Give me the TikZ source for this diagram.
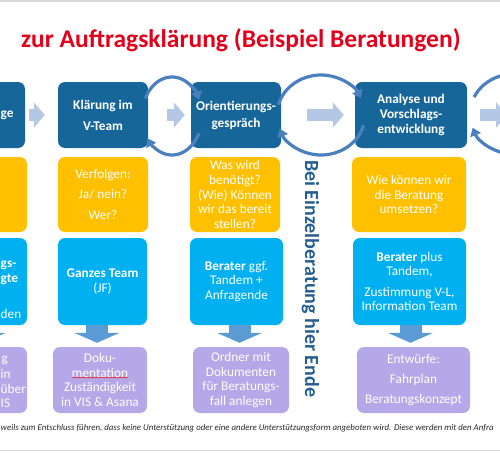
\documentclass[tikz,border=0pt]{standalone}
\usepackage{fontspec}
\setmainfont{Carlito}
\usetikzlibrary{arrows.meta,decorations.pathmorphing}
\definecolor{stepblue}{HTML}{17669A}
\definecolor{askyellow}{HTML}{FFC000}
\definecolor{whocyan}{HTML}{00B0F0}
\definecolor{resultlilac}{HTML}{B4A8E8}
\definecolor{flowblue}{HTML}{B4C8E6}
\definecolor{dropblue}{HTML}{5B9BD5}
\definecolor{loopblue}{HTML}{4A80C0}
\definecolor{titlered}{HTML}{E2001A}
\definecolor{endblue}{HTML}{245E91}

\begin{document}
\begin{tikzpicture}[x=1pt, y=-1pt,
    tile/.style={rectangle, rounded corners=7pt, text=white, align=center,
        inner sep=0pt, font=\fontsize{13.3}{14.6}\selectfont},
    stepbox/.style={tile, fill=stepblue, minimum height=66pt,
        font=\fontsize{13.3}{14.6}\selectfont\bfseries},
    askbox/.style={tile, fill=askyellow, minimum height=75pt},
    whobox/.style={tile, fill=whocyan, minimum height=87pt},
    resultbox/.style={tile, fill=resultlilac, minimum height=66pt},
    frag/.style={text=white, inner sep=0pt, anchor=base west,
        font=\fontsize{13.3}{14.6}\selectfont},
    flow/.style={draw=flowblue, line width=12pt, -{Triangle[width=25pt,length=11pt]}},
    drop/.style={draw=dropblue, line width=22pt, shorten >=4pt,
        -{Triangle[width=45pt,length=10pt]}},
    loopback/.style={draw=loopblue, line width=3.2pt, -{Triangle[width=11pt,length=8pt]}}
]
    \useasboundingbox (0,0) rectangle (500,452);
    \clip (0,0) rectangle (500,452);
    \draw[black!15, line width=1.5pt] (0,1) -- (500,1);
    \draw[black!15, line width=1pt] (0,450) -- (500,450);

    \node[anchor=base west, inner sep=0pt, text=titlered,
        font=\fontsize{25.5}{30}\selectfont\bfseries] (title) at (21,48)
        {zur Auftragsklärung (Beispiel Beratungen)};

    % Schritte
    \node[stepbox, minimum width=90pt] (k1) at (-20,115) {};
    \node[stepbox, minimum width=90pt] (k2) at (103,115) {Klärung im\\[6.4pt]V-Team};
    \node[stepbox, minimum width=90pt] (k3) at (236,115) {Orientierungs-\\[2.4pt]gespräch};
    \node[stepbox, minimum width=112pt] (k4) at (411,115) {Analyse und\\Vorschlags-\\entwicklung};
    \coordinate (k5) at (520,115);

    % Fragen
    \node[askbox, minimum width=92pt] (a1) at (-19,194.5) {};
    \node[askbox, minimum width=90pt] (a2) at (103,194.5) {Verfolgen:\\[6pt]Ja/ nein?\\[6.5pt]Wer?};
    \node[askbox, minimum width=90pt] (a3) at (235,194.5) {Was wird\\benötigt?\\(Wie) Können\\wir das bereit\\stellen?};
    \node[askbox, minimum width=114pt] (a4) at (409,194.5) {Wie können wir\\die Beratung\\umsetzen?};

    % Beteiligte
    \node[whobox, minimum width=92pt] (c1) at (-19,281.5) {};
    \node[whobox, minimum width=89pt] (c2) at (102.5,281.5) {\textbf{Ganzes Team}\\(JF)};
    \node[whobox, minimum width=93pt] (c3) at (236.5,281.5) {\textbf{Berater} ggf.\\Tandem +\\Anfragende};
    \node[whobox, minimum width=113pt] (c4) at (409.5,281.5) {\textbf{Berater} plus\\Tandem,\\[6pt]Zustimmung V-L,\\Information Team};

    % Ergebnisse
    \node[resultbox, minimum width=92pt] (p1) at (-19,380) {};
    \node[resultbox, minimum width=94pt] (p2) at (100,380) {Doku-\\mentation\\Zuständigkeit\\in VIS \& Asana};
    \node[resultbox, minimum width=96pt] (p3) at (241,380) {Ordner mit\\Dokumenten\\für Beratungs-\\fall anlegen};
    \node[resultbox, minimum width=113pt] (p4) at (413.5,380) {Entwürfe:\\[5.4pt]Fahrplan\\[5.4pt]Beratungskonzept};
    \draw[red, decorate, decoration={snake, amplitude=0.6pt, segment length=3pt}] (72,377.5) -- (128,377.5);

    % Reste der ersten Spalte
    \node[frag, font=\fontsize{13.3}{14.6}\selectfont\bfseries] (f1) at (0.5,117) {ge};
    \node[frag, font=\fontsize{13.3}{14.6}\selectfont\bfseries] (f2) at (0.5,267) {gs-};
    \node[frag, font=\fontsize{13.3}{14.6}\selectfont\bfseries] (f3) at (0.5,282) {gte};
    \node[frag] (f4) at (0.5,318) {den};
    \node[frag] (f5) at (1.5,362) {g};
    \node[frag] (f6) at (0.5,378) {in};
    \node[frag] (f7) at (0.5,393) {über};
    \node[frag] (f8) at (0.5,407) {IS};

    % Pfeile
    \draw[flow] ([xshift=4pt]k1.east) -- ([xshift=-13pt]k2.west);
    \draw[flow] ([xshift=19pt]k2.east) -- ([xshift=-6pt]k3.west);
    \draw[flow] ([xshift=26pt]k3.east) -- ([xshift=-11pt]k4.west);
    \draw[flow] ([xshift=13pt]k4.east) -- ([xshift=-13pt]k5);

    \draw[drop] ([xshift=2pt]c1.south) -- ([xshift=2pt]c1.south |- p1.north);
    \draw[drop] ([xshift=-5.5pt]c2.south) -- ([xshift=-5.5pt]c2.south |- p2.north);
    \draw[drop] ([xshift=3pt]c3.south) -- ([xshift=3pt]c3.south |- p3.north);
    \draw[drop] ([xshift=1pt]c4.south) -- ([xshift=1pt]c4.south |- p4.north);

    \coordinate (r1) at (172,116);
    \coordinate (r2) at (321,115);
    \coordinate (r3) at (514,114);
    \draw[loopback] (r1) ++(-153:30 and 39) arc[start angle=-153, end angle=-25, x radius=30, y radius=39];
    \draw[loopback] (r1) ++(26:30 and 39) arc[start angle=26, end angle=145, x radius=30, y radius=39];
    \draw[loopback] (r2) ++(-165:44 and 40) arc[start angle=-165, end angle=-25, x radius=44, y radius=40];
    \draw[loopback] (r2) ++(15:44 and 40) arc[start angle=15, end angle=160, x radius=44, y radius=40];
    \draw[loopback] (r3) ++(-155:44 and 40) arc[start angle=-155, end angle=-25, x radius=44, y radius=40];
    \draw[loopback] (r3) ++(15:44 and 40) arc[start angle=15, end angle=160, x radius=44, y radius=40];

    \node[rotate=-90, anchor=base west, inner sep=0pt, text=endblue,
        font=\fontsize{20}{24}\selectfont\bfseries] (stop) at (305,160)
        {Bei Einzelberatung hier Ende};

    \node[anchor=base west, inner sep=0pt, text=black!85,
        font=\fontsize{8.85}{10}\selectfont\itshape] (note) at (0.5,430)
        {weils zum Entschluss führen, dass keine Unterstützung oder eine andere Unterstützungsform angeboten wird. Diese werden mit den Anfra};
\end{tikzpicture}
\end{document}
